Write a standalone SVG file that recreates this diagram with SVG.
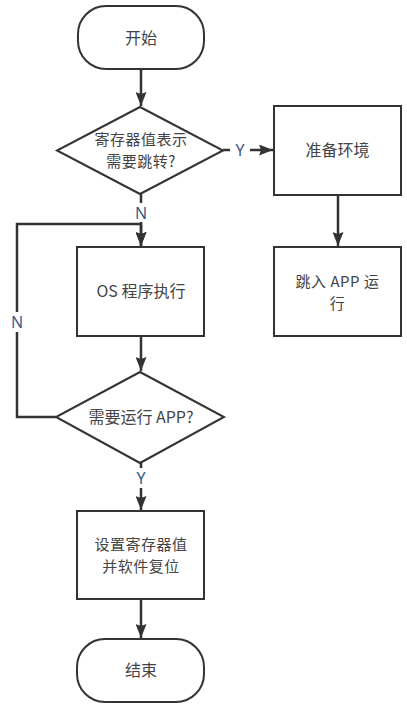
<svg xmlns="http://www.w3.org/2000/svg" width="407" height="712" viewBox="0 0 407 712">
<defs>
<marker id="arr" viewBox="0 0 14 11" refX="14" refY="5.5" markerWidth="14" markerHeight="11" markerUnits="userSpaceOnUse" orient="auto">
<path d="M0,0 L14,5.5 L0,11 L2,5.5 z" fill="#333"/>
</marker>
<style>
.s{fill:#fff;stroke:#333;stroke-width:2}
.t{font-family:"Noto Sans CJK SC","Microsoft YaHei",sans-serif;font-size:16px;fill:#444;text-anchor:middle}
.m{font-size:15px;letter-spacing:0.5px}
.l{font-family:"Noto Sans","Liberation Sans",sans-serif;font-size:16px;fill:#3b5a8a;text-anchor:middle;dominant-baseline:central}
.c{fill:none;stroke:#333;stroke-width:2.5}
</style>
</defs>
<rect width="407" height="712" fill="#fff"/>
<g id="connectors">
<line class="c" x1="141" y1="69" x2="141" y2="106" marker-end="url(#arr)"/>
<polyline class="c" points="223,150 230,150"/>
<line class="c" x1="250" y1="150" x2="273" y2="150" marker-end="url(#arr)"/>
<line class="c" x1="338" y1="195" x2="338" y2="246" marker-end="url(#arr)"/>
<line class="c" x1="141" y1="194" x2="141" y2="203"/>
<line class="c" x1="141" y1="222" x2="141" y2="246" marker-end="url(#arr)"/>
<polyline class="c" points="56,417 17,417 17,224 141,224 141,246" marker-end="url(#arr)"/>
<line class="c" x1="141" y1="336" x2="141" y2="371" marker-end="url(#arr)"/>
<line class="c" x1="141" y1="463" x2="141" y2="468"/>
<line class="c" x1="141" y1="488" x2="141" y2="510" marker-end="url(#arr)"/>
<line class="c" x1="141" y1="599" x2="141" y2="638" marker-end="url(#arr)"/>
<rect x="8" y="312" width="18" height="20" fill="#fff"/>
<text class="l" x="240" y="150">Y</text>
<text class="l" x="141" y="213">N</text>
<text class="l" x="17" y="322">N</text>
<text class="l" x="141" y="478">Y</text>
</g>
<g id="start">
<rect class="s" x="78" y="6" width="126" height="63" rx="28"/>
<text class="t" x="141" y="43.5">开始</text>
</g>
<g id="decision1">
<polygon class="s" points="140,107 223,150.5 140,194 57,150.5"/>
<text class="t m" x="141" y="145">寄存器值表示</text>
<text class="t m" x="141" y="167">需要跳转?</text>
</g>
<g id="prepare">
<rect class="s" x="274" y="106" width="127" height="89"/>
<text class="t" x="337.5" y="155.5">准备环境</text>
</g>
<g id="jump">
<rect class="s" x="274" y="247" width="127" height="89"/>
<text class="t m" x="337.5" y="286.5">跳入 APP 运</text>
<text class="t m" x="337.5" y="308.5">行</text>
</g>
<g id="os">
<rect class="s" x="77" y="247" width="127" height="89"/>
<text class="t" x="141" y="296.5">OS 程序执行</text>
</g>
<g id="decision2">
<polygon class="s" points="140,372 224,417 140,463 56,417"/>
<text class="t" x="141" y="422.5">需要运行 APP?</text>
</g>
<g id="reset">
<rect class="s" x="77" y="511" width="127" height="88"/>
<text class="t m" x="141" y="549.5">设置寄存器值</text>
<text class="t m" x="141" y="571.5">并软件复位</text>
</g>
<g id="end">
<rect class="s" x="77" y="639" width="127" height="63" rx="28"/>
<text class="t" x="141" y="675.5">结束</text>
</g>
</svg>
